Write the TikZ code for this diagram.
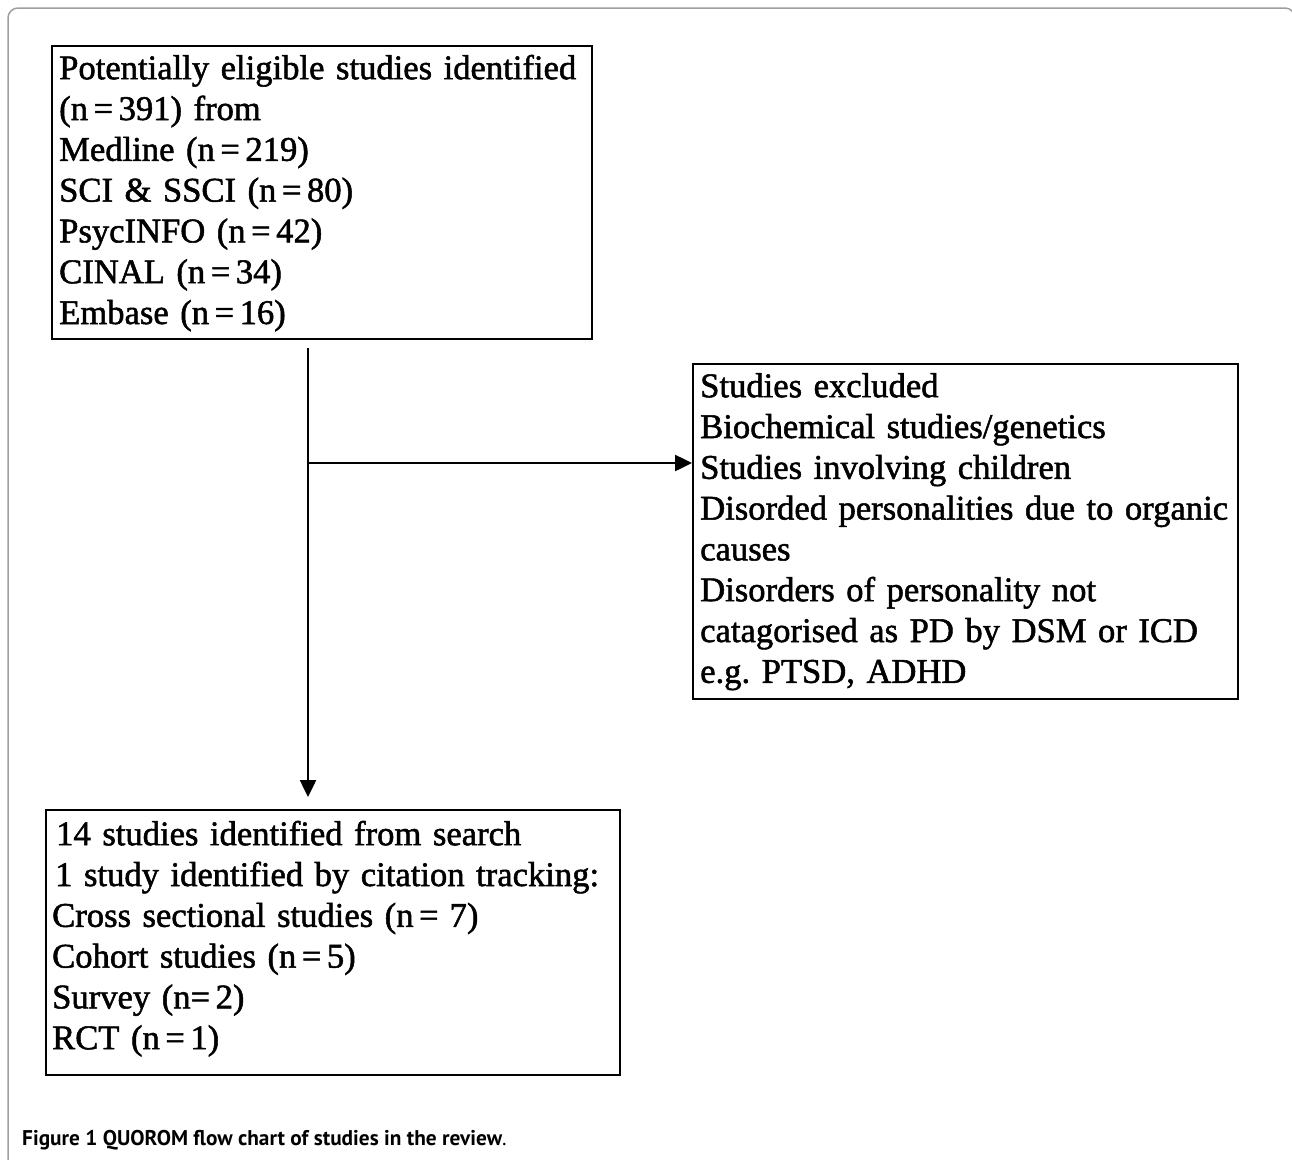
\documentclass[tikz,border=0pt]{standalone}
\usepackage{fontspec}
\setmainfont{Liberation Serif}[FakeBold=1.5]
\newfontfamily\capfont{PT Sans}
\newcommand\nq[1]{{\spaceskip=0.16em\relax #1}}
\usetikzlibrary{arrows.meta}
\begin{document}
\frenchspacing
\begin{tikzpicture}[x=1pt,y=-1pt,
  box/.style={draw=black, line width=2pt, inner sep=0pt, anchor=north west},
  txt/.style={inner sep=0pt, anchor=north west, align=left, text width=#1,
    font=\fontsize{34.6}{40.8}\selectfont\frenchspacing},
  arr/.style={line width=2.5pt, -{Triangle[length=17pt,width=16pt]}},
  frame/.style={draw=black!38, line width=1.5pt, rounded corners=10pt},
]
\useasboundingbox (0,0) rectangle (1292,1159);
\clip (0,0) rectangle (1292,1159);
\draw[frame] (8,1200) -- (8,8) -- (1295,8) -- (1295,1200);

% boxes
\node[box, minimum width=540pt, minimum height=293pt] (b1) at (51,45) {};
\node[box, minimum width=545pt, minimum height=335pt] (b2) at (692,363) {};
\node[box, minimum width=574pt, minimum height=265pt] (b3) at (45,809) {};

% texts
\node[txt=560pt] (t1) at (59,45) {\rule{0pt}{34pt}Potentially eligible studies identified\\
(\nq{n = 391}) from\\
Medline (\nq{n = 219})\\
SCI \& SSCI (\nq{n = 80})\\
PsycINFO (\nq{n = 42})\\
CINAL (\nq{n = 34})\\
Embase (\nq{n = 16})};

\node[txt=560pt] (t2) at (700,363) {\rule{0pt}{34pt}Studies excluded\\
Biochemical studies/genetics\\
Studies involving children\\
Disorded personalities due to organic\\
causes\\
Disorders of personality not\\
catagorised as PD by DSM or ICD\\
e.g. PTSD, ADHD};

\node[txt=580pt] (t3) at (52,811) {\rule{0pt}{34pt}\hspace*{4pt}14 studies identified from search\\
\hspace*{3pt}1 study identified by citation tracking:\\
Cross sectional studies (\nq{n = \ 7})\\
Cohort studies (\nq{n = 5})\\
Survey (\nq{n= 2})\\
RCT (\nq{n = 1})};

% connectors
\coordinate (vtop) at (308,348);
\coordinate (vbot) at (308,797);
\coordinate (j) at (307,463);
\draw[arr] (vtop) -- (vbot);
\draw[arr] (j) -- (j -| b2.west);

% caption
\node[anchor=base west, inner sep=0pt, font=\capfont\fontsize{21.3}{25}\selectfont] (cap) at (22,1145)
  {\bfseries Figure 1 QUOROM flow chart of studies in the review\mdseries.};
\end{tikzpicture}
\end{document}
